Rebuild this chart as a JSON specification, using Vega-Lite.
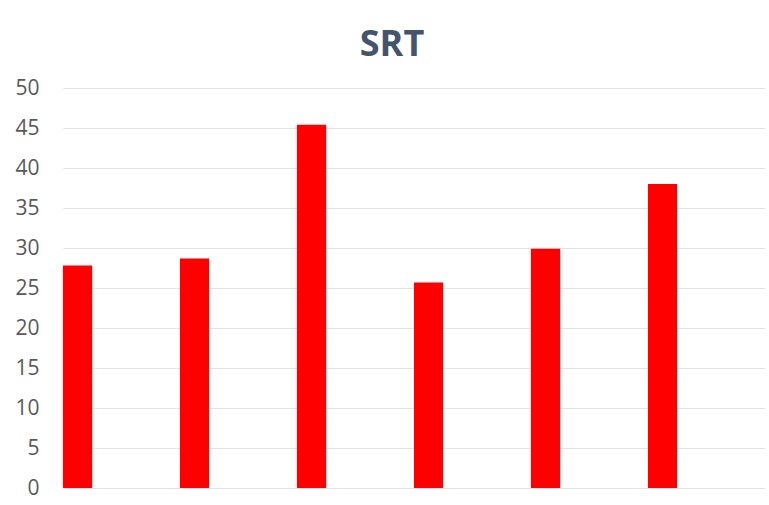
{
  "$schema": "https://vega.github.io/schema/vega-lite/v6.json",
  "width": 702,
  "height": 400,
  "autosize": {"type": "none"},
  "padding": {"left": 63, "top": 88, "right": 4, "bottom": 17},
  "background": "white",
  "title": {
    "text": "SRT",
    "font": "Open Sans",
    "fontSize": 36,
    "fontWeight": "bold",
    "color": "#44546A",
    "anchor": "middle",
    "frame": "group",
    "dx": -22,
    "offset": 13
  },
  "data": {
    "values": [
      {"cat": "1", "s": "a", "value": 27.8},
      {"cat": "2", "s": "a", "value": 28.7},
      {"cat": "3", "s": "a", "value": 45.4},
      {"cat": "4", "s": "a", "value": 25.7},
      {"cat": "5", "s": "a", "value": 29.9},
      {"cat": "6", "s": "a", "value": 38.0}
    ]
  },
  "mark": {"type": "bar", "color": "#FF0000"},
  "encoding": {
    "x": {
      "field": "cat",
      "type": "nominal",
      "scale": {"paddingInner": 0, "paddingOuter": 0},
      "axis": null
    },
    "xOffset": {
      "field": "s",
      "type": "nominal",
      "scale": {"domain": ["a", "b", "c", "d"], "paddingInner": 0, "paddingOuter": 0}
    },
    "y": {
      "field": "value",
      "type": "quantitative",
      "scale": {"domain": [0, 50], "nice": false},
      "axis": {
        "values": [0, 5, 10, 15, 20, 25, 30, 35, 40, 45, 50],
        "title": null,
        "domain": false,
        "ticks": false,
        "labelFont": "Open Sans",
        "labelFontSize": 21,
        "labelColor": "#595959",
        "labelPadding": 24,
        "gridColor": "#E3E3E3",
        "gridWidth": 1
      }
    }
  },
  "config": {"view": {"stroke": null}}
}
